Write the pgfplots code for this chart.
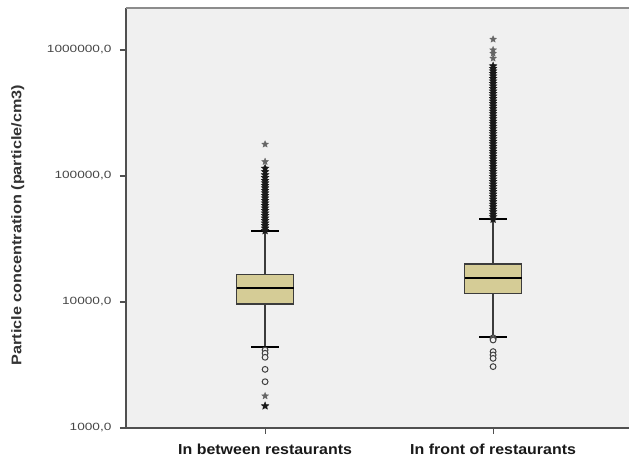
\documentclass[border=0pt]{standalone}
\usepackage{fontspec}
\setmainfont{Liberation Sans}
\usepackage{pgfplots}
\pgfplotsset{compat=1.18}

\definecolor{bgc}{RGB}{240,240,240}
\definecolor{boxc}{RGB}{213,204,150}
\definecolor{edgec}{RGB}{60,60,60}
\definecolor{spinec}{RGB}{80,80,80}
\definecolor{tlab}{RGB}{70,70,70}

\pgfdeclareplotmark{fstar}{%
  \pgfpathmoveto{\pgfpointpolar{90}{\pgfplotmarksize}}%
  \pgfpathlineto{\pgfpointpolar{126}{0.45\pgfplotmarksize}}%
  \pgfpathlineto{\pgfpointpolar{162}{\pgfplotmarksize}}%
  \pgfpathlineto{\pgfpointpolar{198}{0.45\pgfplotmarksize}}%
  \pgfpathlineto{\pgfpointpolar{234}{\pgfplotmarksize}}%
  \pgfpathlineto{\pgfpointpolar{270}{0.45\pgfplotmarksize}}%
  \pgfpathlineto{\pgfpointpolar{306}{\pgfplotmarksize}}%
  \pgfpathlineto{\pgfpointpolar{342}{0.45\pgfplotmarksize}}%
  \pgfpathlineto{\pgfpointpolar{18}{\pgfplotmarksize}}%
  \pgfpathlineto{\pgfpointpolar{54}{0.45\pgfplotmarksize}}%
  \pgfpathclose
  \pgfusepathqfillstroke}

\newcommand{\tl}[1]{\scalebox{1.3}[1]{#1}}
\newcommand{\cl}[1]{\scalebox{1.1}[1]{#1}}

\begin{document}
\begin{tikzpicture}
\begin{axis}[name=ax, scale only axis, width=503pt, height=420pt,
  xmin=0.39, xmax=2.596, ymode=log, ymin=1000, ymax=2154000,
  axis background/.style={fill=bgc},
  axis lines*=left,
  axis line style={-, draw=spinec, line width=1.1pt},
  tick align=outside, major tick length=6pt,
  tick style={draw=spinec, line width=1.1pt},
  xtick={1,2},
  xticklabels={\cl{In between restaurants},\cl{In front of restaurants}},
  xticklabel style={font=\fontsize{14.5}{16}\selectfont\bfseries, text=black!90, yshift=-6pt},
  ytick={1000,10000,100000,1000000},
  yticklabels={\tl{1000,0},\tl{10000,0},\tl{100000,0},\tl{1000000,0}},
  yticklabel style={font=\fontsize{10.5}{12}\selectfont, text=tlab, xshift=-5pt},
  yminorticks=false, xminorticks=false,
  ylabel={\scalebox{1.16}[1]{Particle concentration (particle/cm3)}},
  every axis y label/.style={at={(axis description cs:-0.215,0.483)}, rotate=90, anchor=center,
    font=\fontsize{14}{16}\selectfont\bfseries, text=black!80},
]
% whisker stems
\addplot[edgec, line width=1.3pt] coordinates {(1,4420) (1,9640)};
\addplot[edgec, line width=1.3pt] coordinates {(1,16590) (1,36800)};
\addplot[edgec, line width=1.3pt] coordinates {(2,5300) (2,11730)};
\addplot[edgec, line width=1.3pt] coordinates {(2,20050) (2,45300)};
% whisker caps
\addplot[black, line width=2pt] coordinates {(0.9385,4420) (1.0615,4420)};
\addplot[black, line width=2pt] coordinates {(0.9385,36800) (1.0615,36800)};
\addplot[black, line width=2pt] coordinates {(1.9385,5300) (2.0615,5300)};
\addplot[black, line width=2pt] coordinates {(1.9385,45300) (2.0615,45300)};
% boxes
\addplot[fill=boxc, draw=edgec, line width=1.2pt] coordinates
  {(0.875,9640) (1.125,9640) (1.125,16590) (0.875,16590)} -- cycle;
\addplot[fill=boxc, draw=edgec, line width=1.2pt] coordinates
  {(1.875,11730) (2.125,11730) (2.125,20050) (1.875,20050)} -- cycle;
% medians
\addplot[black, line width=2.2pt] coordinates {(0.875,12850) (1.125,12850)};
\addplot[black, line width=2.2pt] coordinates {(1.875,15400) (2.125,15400)};

% extreme values (stars), dark
\addplot[only marks, mark=fstar, mark size=4pt,
  mark options={fill=black!90, draw=black!90, line width=0.4pt}] coordinates {
(1,36800) (1,38530) (1,40340) (1,42240) (1,44220) (1,46300) (1,48480) (1,50750)
(1,53140) (1,55640) (1,58250) (1,60990) (1,63860) (1,66860) (1,70000) (1,73290)
(1,76730) (1,80340) (1,84000) (1,88000) (1,92000) (1,97000) (1,102000) (1,108000)
(1,115000) (1,1496)
(2,45300) (2,47430) (2,49660) (2,51990) (2,54440) (2,57000) (2,59670) (2,62480)
(2,65420) (2,68490) (2,71710) (2,75080) (2,78610) (2,82310) (2,86180) (2,90230)
(2,94470) (2,98910) (2,103560) (2,108430) (2,113530) (2,118860) (2,124450) (2,130300)
(2,136420) (2,142840) (2,149550) (2,156580) (2,163940) (2,171650) (2,179720) (2,188160)
(2,197000) (2,206260) (2,215960) (2,226110) (2,236740) (2,247860) (2,259510) (2,271710)
(2,284480) (2,297850) (2,311850) (2,326510) (2,341850) (2,357920) (2,374740) (2,392360)
(2,410800) (2,430100) (2,450320) (2,471480) (2,493650) (2,516850) (2,541140) (2,566570)
(2,593200) (2,621080) (2,650270) (2,680840) (2,712840) (2,746340)
};
% sparse stars, lighter
\addplot[only marks, mark=fstar, mark size=3.6pt,
  mark options={fill=black!60, draw=black!60, line width=0.3pt}] coordinates {
(1,130000) (1,178600) (1,1795)
(2,859000) (2,941000) (2,1000000) (2,1216000)
};
% outliers (circles)
\addplot[only marks, mark=*, mark size=2.9pt,
  mark options={fill=bgc, draw=black!75, line width=1pt}] coordinates {
(1,4160) (1,3920) (1,3640) (1,2920) (1,2330)
(2,5200) (2,5100) (2,4990) (2,4040) (2,3800) (2,3570) (2,3070)
};
\draw[black!45, line width=1.2pt] (rel axis cs:0,1) -- (rel axis cs:1,1);
\end{axis}
\pgfresetboundingbox
\path[use as bounding box] (ax.south west) ++(-126pt,-35pt) rectangle ++(629pt,463pt);
\end{tikzpicture}
\end{document}
